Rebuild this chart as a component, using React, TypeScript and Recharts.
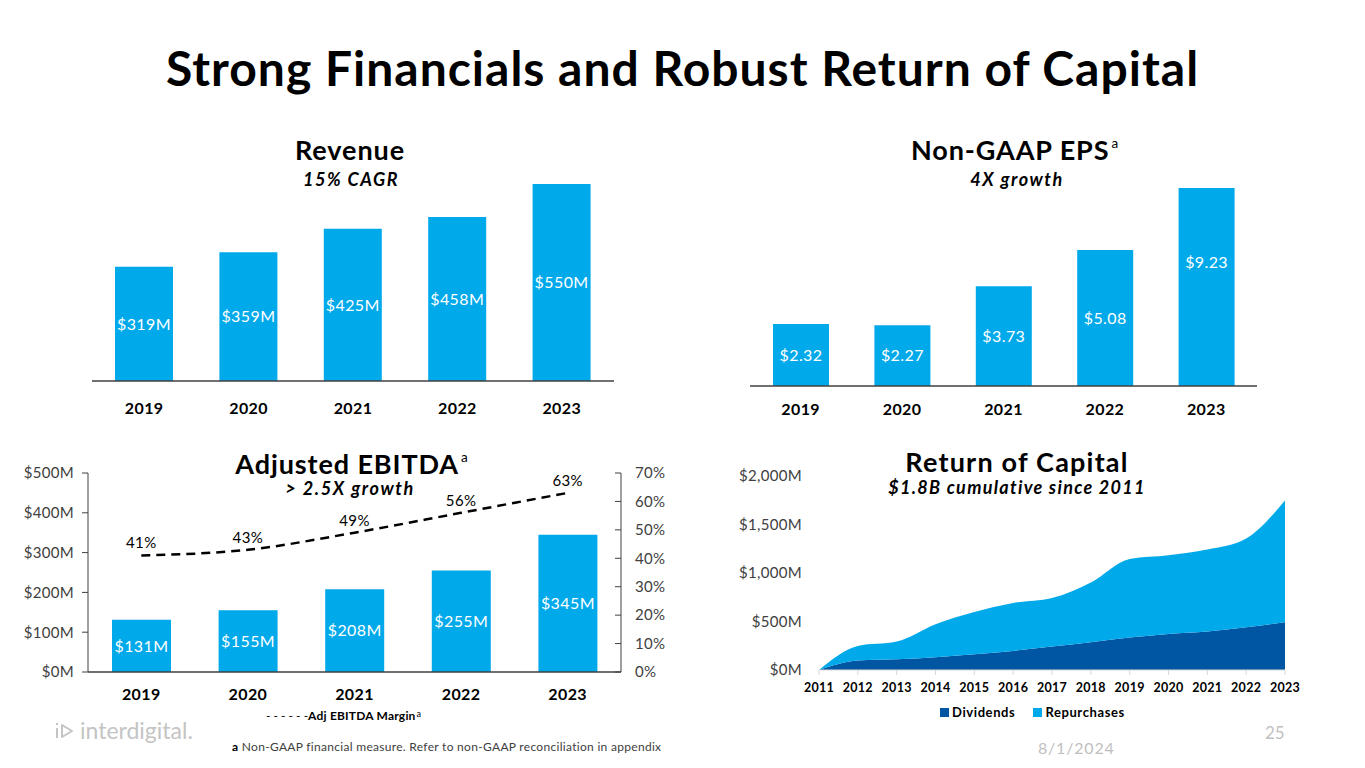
import React from "react";
import {
  BarChart,
  Bar,
  XAxis,
  YAxis,
  LabelList,
  ComposedChart,
  Line,
  AreaChart,
  Area,
} from "recharts";

const YEARS = ["2019", "2020", "2021", "2022", "2023"];
const REVENUE = [319, 359, 425, 458, 550];
const EPS = [2.32, 2.27, 3.73, 5.08, 9.23];
const EBITDA = [131, 155, 208, 255, 345];
const EBITDA_MARGIN = [41, 43, 49, 56, 63];

const ROC_YEARS = ["2011", "2012", "2013", "2014", "2015", "2016", "2017", "2018", "2019", "2020", "2021", "2022", "2023"];
const DIVIDENDS = [0, 97, 110, 131, 162, 197, 241, 286, 334, 372, 397, 441, 493];
const REPURCHASES = [0, 151, 183, 341, 435, 493, 500, 617, 811, 811, 844, 914, 1255];

const LEFT_TICKS = [0, 100, 200, 300, 400, 500];
const RIGHT_TICKS = [0, 10, 20, 30, 40, 50, 60, 70];
const ROC_TICKS = [0, 500, 1000, 1500, 2000];

const BLUE = "#00a9ea";
const DARK_BLUE = "#0156a3";
const INK = "#404040";
const FONT = "Lato, 'Noto Sans', sans-serif";

const revenueData = YEARS.map((y, i) => ({ year: y, value: REVENUE[i] }));
const epsData = YEARS.map((y, i) => ({ year: y, value: EPS[i] }));
const ebitdaData = YEARS.map((y, i) => ({ year: y, value: EBITDA[i], margin: EBITDA_MARGIN[i] }));
const rocData = ROC_YEARS.map((y, i) => ({ year: y, dividends: DIVIDENDS[i], repurchases: REPURCHASES[i] }));

const yearTick = { fill: "#000", fontSize: 16, fontWeight: 700, fontFamily: FONT, letterSpacing: 0.4 };
const valueLabel = { fill: "#fff", fontSize: 16, fontFamily: FONT, letterSpacing: 0.4 };
const axisTick = { fill: INK, fontSize: 15, fontFamily: FONT, letterSpacing: 0.3 };

function Heading({ x, y, text, sup, size = 27, italic = false, spacing = 0.9 }: any) {
  return (
    <div
      style={{
        position: "absolute",
        left: x - 300,
        top: y - size * 0.6,
        width: 600,
        textAlign: "center",
        fontSize: size,
        lineHeight: `${size * 1.2}px`,
        fontWeight: 700,
        fontStyle: italic ? "italic" : "normal",
        letterSpacing: spacing,
        color: "#000",
        whiteSpace: "nowrap",
      }}
    >
      {text}
      {sup ? (
        <span style={{ fontSize: size * 0.5, fontWeight: 400, verticalAlign: "top", lineHeight: "18px", marginLeft: 2 }}>{sup}</span>
      ) : null}
    </div>
  );
}

export default function App() {
  return (
    <div
      style={{
        position: "absolute",
        left: 0,
        top: 0,
        width: 1365,
        height: 768,
        background: "#fff",
        fontFamily: FONT,
        overflow: "hidden",
      }}
    >
      <div
        style={{
          position: "absolute",
          left: 0,
          top: 40,
          width: 1365,
          textAlign: "center",
          fontSize: 48,
          lineHeight: "56px",
          fontWeight: 700,
          letterSpacing: 1,
          color: "#000",
        }}
      >
        Strong Financials and Robust Return of Capital
      </div>

      {/* Revenue */}
      <Heading x={350} y={150} text="Revenue" />
      <Heading x={351} y={180} text="15% CAGR" size={18} italic spacing={1.5} />
      <div style={{ position: "absolute", left: 92, top: 166 }}>
        <BarChart width={522} height={255} data={revenueData} margin={{ top: 0, right: 0, bottom: 0, left: 0 }}>
          <XAxis
            dataKey="year"
            height={40}
            tickSize={0}
            tickMargin={22}
            tick={yearTick}
            axisLine={{ stroke: INK, strokeWidth: 1.5 }}
          />
          <YAxis hide domain={[0, 600]} />
          <Bar dataKey="value" fill={BLUE} barSize={58} isAnimationActive={false}>
            <LabelList dataKey="value" position="center" formatter={(v: any) => `$${v}M`} style={valueLabel} />
          </Bar>
        </BarChart>
      </div>

      {/* Non-GAAP EPS */}
      <Heading x={1015} y={150} text="Non-GAAP EPS" sup="a" />
      <Heading x={1017} y={180} text="4X growth" size={18} italic spacing={1.5} />
      <div style={{ position: "absolute", left: 750, top: 188 }}>
        <BarChart width={507} height={238} data={epsData} margin={{ top: 0, right: 0, bottom: 0, left: 0 }}>
          <XAxis
            dataKey="year"
            height={40}
            tickSize={0}
            tickMargin={18}
            tick={yearTick}
            axisLine={{ stroke: INK, strokeWidth: 1.5 }}
          />
          <YAxis hide domain={[0, 7.4]} allowDataOverflow />
          <Bar dataKey="value" fill={BLUE} barSize={56} isAnimationActive={false}>
            <LabelList dataKey="value" position="center" formatter={(v: any) => `$${Number(v).toFixed(2)}`} style={valueLabel} />
          </Bar>
        </BarChart>
      </div>

      {/* Adjusted EBITDA */}
      <Heading x={352} y={464} text="Adjusted EBITDA" sup="a" />
      <Heading x={350} y={489} text="> 2.5X growth" size={18} italic spacing={1.6} />
      <div style={{ position: "absolute", left: 0, top: 463 }}>
        <ComposedChart width={700} height={249} data={ebitdaData} margin={{ top: 10, right: 0, bottom: 0, left: 0 }}>
          <XAxis
            dataKey="year"
            height={40}
            tickSize={0}
            tickMargin={17}
            tick={yearTick}
            axisLine={{ stroke: INK, strokeWidth: 1.5 }}
          />
          <YAxis
            yAxisId="left"
            width={88}
            domain={[0, 500]}
            ticks={LEFT_TICKS}
            tickFormatter={(v: any) => `$${v}M`}
            tick={axisTick}
            tickSize={6}
            tickMargin={8}
            axisLine={{ stroke: INK }}
            tickLine={{ stroke: INK }}
          />
          <YAxis
            yAxisId="right"
            orientation="right"
            width={79}
            domain={[0, 70]}
            ticks={RIGHT_TICKS}
            tickFormatter={(v: any) => `${v}%`}
            tick={{ ...axisTick, textAnchor: "start" }}
            tickSize={-6}
            tickMargin={20}
            axisLine={{ stroke: INK }}
            tickLine={{ stroke: INK }}
          />
          <Bar yAxisId="left" dataKey="value" fill={BLUE} barSize={59} isAnimationActive={false}>
            <LabelList dataKey="value" position="center" formatter={(v: any) => `$${v}M`} style={valueLabel} />
          </Bar>
          <Line
            yAxisId="right"
            type="monotone"
            dataKey="margin"
            stroke="#000"
            strokeWidth={2.5}
            strokeDasharray="9 6"
            dot={false}
            isAnimationActive={false}
          >
            <LabelList
              dataKey="margin"
              position="top"
              offset={7}
              formatter={(v: any) => `${v}%`}
              style={{ fill: "#000", fontSize: 15, fontFamily: FONT, letterSpacing: 0.4 }}
            />
          </Line>
        </ComposedChart>
      </div>
      <div
        style={{
          position: "absolute",
          left: 266,
          top: 708,
          fontSize: 12,
          lineHeight: "16px",
          color: "#000",
          whiteSpace: "nowrap",
        }}
      >
        <span>- - - - - -</span>
        <span style={{ fontWeight: 700, letterSpacing: 0.2 }}>Adj EBITDA Margin</span>
        <span style={{ fontSize: 9, verticalAlign: "top", lineHeight: "12px", marginLeft: 1 }}>a</span>
      </div>

      {/* Return of Capital */}
      <Heading x={1017} y={462} text="Return of Capital" spacing={1.2} />
      <Heading x={1017} y={488} text="$1.8B cumulative since 2011" size={18} italic spacing={1.3} />
      <div style={{ position: "absolute", left: 700, top: 466 }}>
        <AreaChart width={605} height={228} data={rocData} margin={{ top: 10, right: 20, bottom: 0, left: 0 }}>
          <XAxis
            dataKey="year"
            height={24}
            tickSize={5}
            tickMargin={8}
            interval={0}
            tick={{ fill: "#000", fontSize: 12.5, fontWeight: 700, fontFamily: FONT, letterSpacing: 0.3 }}
            axisLine={{ stroke: "#d9d9d9" }}
            tickLine={{ stroke: "#d9d9d9" }}
          />
          <YAxis
            width={119}
            domain={[0, 2000]}
            ticks={ROC_TICKS}
            tickFormatter={(v: any) => `$${Number(v).toLocaleString("en-US")}M`}
            tick={axisTick}
            tickSize={0}
            tickMargin={17}
            axisLine={false}
            tickLine={false}
          />
          <Area
            type="monotone"
            dataKey="dividends"
            stackId="1"
            stroke="none"
            fill={DARK_BLUE}
            fillOpacity={1}
            isAnimationActive={false}
          />
          <Area
            type="monotone"
            dataKey="repurchases"
            stackId="1"
            stroke="none"
            fill={BLUE}
            fillOpacity={1}
            isAnimationActive={false}
          />
        </AreaChart>
      </div>
      <div
        style={{
          position: "absolute",
          left: 940,
          top: 704,
          fontSize: 13,
          lineHeight: "16px",
          fontWeight: 700,
          letterSpacing: 0.6,
          color: "#000",
          whiteSpace: "nowrap",
        }}
      >
        <span style={{ display: "inline-block", width: 9, height: 9, background: DARK_BLUE, marginRight: 3 }} />
        Dividends
        <span style={{ display: "inline-block", width: 9, height: 9, background: BLUE, marginLeft: 18, marginRight: 3 }} />
        Repurchases
      </div>

      {/* footer */}
      <div style={{ position: "absolute", left: 54, top: 716, color: "#c4c4c4", fontSize: 23, lineHeight: "28px", whiteSpace: "nowrap" }}>
        <svg width="22" height="20" viewBox="0 0 22 20" style={{ marginRight: 4, verticalAlign: "-2px" }}>
          <line x1="3" y1="2" x2="3" y2="4" stroke="#c4c4c4" strokeWidth="2" />
          <line x1="3" y1="7" x2="3" y2="17" stroke="#c4c4c4" strokeWidth="2" />
          <path d="M8 4 L18 10 L8 16 Z" fill="none" stroke="#c4c4c4" strokeWidth="2" strokeLinejoin="round" />
        </svg>
        interdigital.
      </div>
      <div style={{ position: "absolute", left: 232, top: 739, fontSize: 12, lineHeight: "16px", letterSpacing: 0.3, color: INK, whiteSpace: "nowrap" }}>
        <b style={{ color: "#000" }}>a</b> Non-GAAP financial measure. Refer to non-GAAP reconciliation in appendix
      </div>
      <div style={{ position: "absolute", left: 1038, top: 738, fontSize: 16, lineHeight: "20px", letterSpacing: 0.8, color: "#bfbfbf" }}>8/1/2024</div>
      <div style={{ position: "absolute", left: 1265, top: 722, fontSize: 17, lineHeight: "22px", color: "#bfbfbf" }}>25</div>
    </div>
  );
}
